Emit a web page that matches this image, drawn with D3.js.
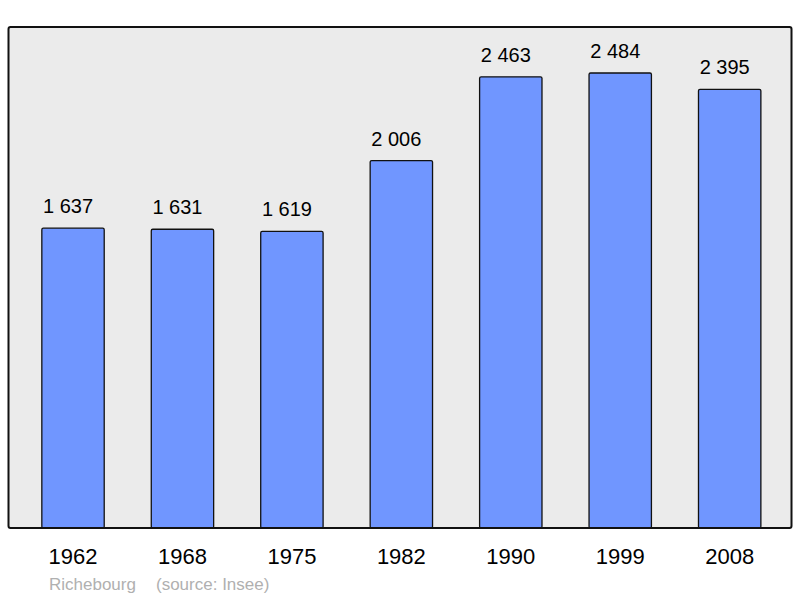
<!DOCTYPE html>
<html><head><meta charset="utf-8">
<script src="https://cdn.jsdelivr.net/npm/d3@7"></script>
<style>html,body{margin:0;padding:0;background:#fff;}svg{display:block;}</style>
</head><body>
<script>
const years = ["1962","1968","1975","1982","1990","1999","2008"];
const population = [1637, 1631, 1619, 2006, 2463, 2484, 2395];
const commune = "Richebourg";
const source = "(source: Insee)";

const W = 800, H = 598;
const frame = {x0: 8.5, y0: 27, x1: 791.5, y1: 528};
const svg = d3.select("body").append("svg").attr("width", W).attr("height", H)
  .style("font-family", "'Liberation Sans', Arial, sans-serif");

svg.append("rect").attr("x", frame.x0).attr("y", frame.y0)
  .attr("width", frame.x1 - frame.x0).attr("height", frame.y1 - frame.y0)
  .attr("rx", 2).attr("fill", "#ebebeb").attr("stroke", "none");

const x = d3.scaleBand().domain(years).range([18.3, 784.4]).paddingInner(0.43).paddingOuter(0.215);
const y = d3.scaleLinear().domain([0, 2735]).range([frame.y1, frame.y0]);

const data = years.map((yr, i) => ({yr, v: population[i]}));

svg.append("g").selectAll("rect").data(data).join("rect")
  .attr("x", d => x(d.yr)).attr("y", d => y(d.v))
  .attr("width", x.bandwidth()).attr("height", d => y(0) - y(d.v))
  .attr("rx", 1.5)
  .attr("fill", "#7096ff").attr("stroke", "#111").attr("stroke-width", 1.3);

svg.append("g").selectAll("text").data(data).join("text")
  .attr("x", d => x(d.yr) + x.bandwidth() / 2 - 5).attr("y", d => y(d.v) - 15)
  .attr("text-anchor", "middle").attr("font-size", 20).attr("fill", "#000")
  .text(d => d3.format(",")(d.v).replace(/,/g, " "));

// frame border on top
svg.append("rect").attr("x", frame.x0).attr("y", frame.y0)
  .attr("width", frame.x1 - frame.x0).attr("height", frame.y1 - frame.y0)
  .attr("rx", 2).attr("fill", "none").attr("stroke", "#111").attr("stroke-width", 2);

const xAxis = d3.axisBottom(x).tickSize(0).tickPadding(0);
const gx = svg.append("g").attr("transform", `translate(0,${frame.y1})`).call(xAxis);
gx.select(".domain").remove();
gx.selectAll("text").attr("dy", null).attr("y", 36).attr("font-size", 22)
  .attr("fill", "#000").attr("font-family", "'Liberation Sans', Arial, sans-serif");

svg.append("text").attr("x", 49).attr("y", 590).attr("font-size", 17).attr("fill", "#b0b0b0").text(commune);
svg.append("text").attr("x", 156).attr("y", 590).attr("font-size", 17).attr("fill", "#b0b0b0").text(source);
</script>
</body></html>
